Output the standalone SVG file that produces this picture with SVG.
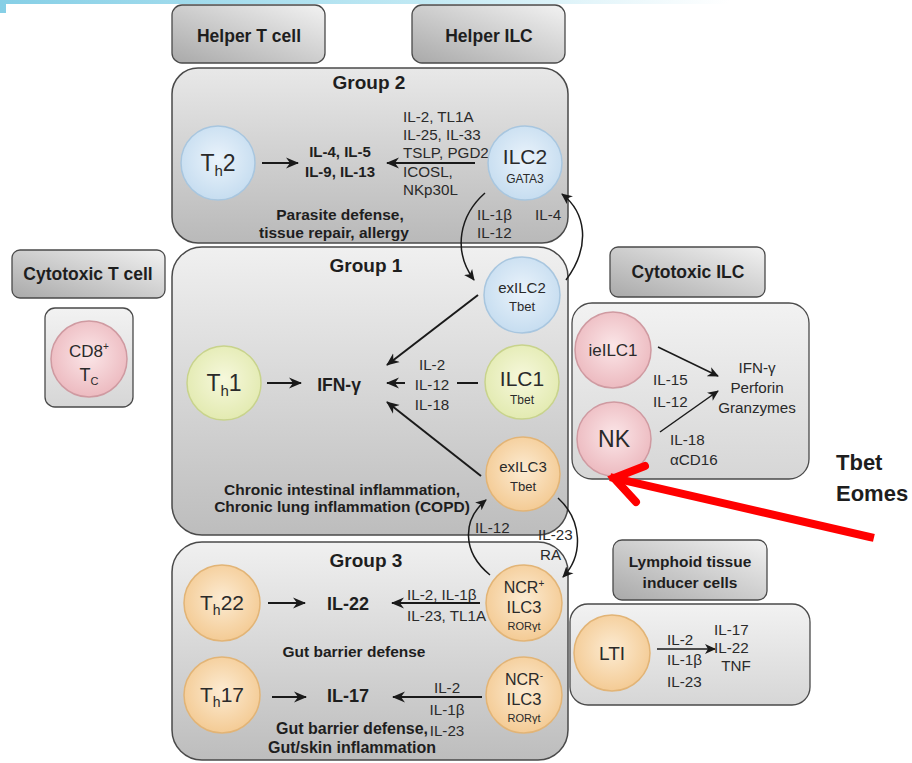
<svg xmlns="http://www.w3.org/2000/svg" width="912" height="763" viewBox="0 0 912 763">
<defs>
<linearGradient id="topband" x1="0" y1="0" x2="1" y2="0">
<stop offset="0" stop-color="#86cfe6"/><stop offset="0.45" stop-color="#bfe8f3"/><stop offset="0.8" stop-color="#ffffff"/>
</linearGradient>
<linearGradient id="hdr" x1="1" y1="0" x2="0" y2="1">
<stop offset="0" stop-color="#f2f2f2"/><stop offset="1" stop-color="#a9a9a9"/>
</linearGradient>
<linearGradient id="grp" x1="0" y1="0" x2="0" y2="1">
<stop offset="0" stop-color="#f0f0f0"/><stop offset="1" stop-color="#bdbdbd"/>
</linearGradient>
<linearGradient id="grp2" x1="0" y1="0" x2="0" y2="1">
<stop offset="0" stop-color="#e8e8e8"/><stop offset="1" stop-color="#b9b9b9"/>
</linearGradient>
<linearGradient id="side" x1="0" y1="0" x2="0" y2="1">
<stop offset="0" stop-color="#f2f2f2"/><stop offset="1" stop-color="#d6d6d6"/>
</linearGradient>
<radialGradient id="blue" cx="0.5" cy="0.45" r="0.6">
<stop offset="0" stop-color="#eaf3fb"/><stop offset="1" stop-color="#c3dbef"/>
</radialGradient>
<radialGradient id="green" cx="0.5" cy="0.45" r="0.6">
<stop offset="0" stop-color="#f6f8dc"/><stop offset="1" stop-color="#e1e9ad"/>
</radialGradient>
<radialGradient id="orange" cx="0.5" cy="0.45" r="0.6">
<stop offset="0" stop-color="#fcebd2"/><stop offset="1" stop-color="#f3c88f"/>
</radialGradient>
<radialGradient id="pink" cx="0.5" cy="0.45" r="0.6">
<stop offset="0" stop-color="#fbe6e8"/><stop offset="1" stop-color="#ebb6bc"/>
</radialGradient>
<marker id="ah" markerUnits="userSpaceOnUse" markerWidth="13" markerHeight="12" viewBox="0 0 13 12" refX="12" refY="6" orient="auto">
<path d="M0,0.5 L13,6 L0,11.5 L4,6 z" fill="#1a1a1a"/>
</marker>
<marker id="ahs" markerUnits="userSpaceOnUse" markerWidth="11" markerHeight="11" viewBox="0 0 11 11" refX="10" refY="5.5" orient="auto">
<path d="M0,0.5 L11,5.5 L0,10.5 L3,5.5 z" fill="#1a1a1a"/>
</marker>
</defs>
<style>
text{font-family:"Liberation Sans",Arial,sans-serif;fill:#2a2a2a}
.b{font-weight:bold;fill:#1e1e1e}
.hdr{fill:url(#hdr);stroke:#4a4a4a;stroke-width:1.3}
.grp{stroke:#4a4a4a;stroke-width:1.5}
.side{fill:url(#side);stroke:#4a4a4a;stroke-width:1.3}
.cb{fill:url(#blue);stroke:#a8c6df;stroke-width:1.5}
.cg{fill:url(#green);stroke:#c8d38c;stroke-width:1.5}
.co{fill:url(#orange);stroke:#e2b476;stroke-width:1.5}
.cp{fill:url(#pink);stroke:#cf9aa1;stroke-width:1.5}
.lab{font-size:15.2px}
.desc{font-size:15.5px}
.ht{font-size:17.5px}
.gt{font-size:19px}
.m{text-anchor:middle}
.ln{stroke:#1a1a1a;stroke-width:2;fill:none}
.cv{stroke:#1a1a1a;stroke-width:1.5;fill:none}
</style>
<rect x="0" y="0" width="912" height="13" fill="url(#topband)"/>
<rect x="6" y="4" width="906" height="759" fill="#ffffff"/>

<g id="hdr-helper-t"><rect class="hdr" x="172" y="5" width="153" height="58" rx="10"/><text class="b m ht" x="249" y="42">Helper T cell</text></g>
<g id="hdr-helper-ilc"><rect class="hdr" x="412" y="5" width="153" height="58" rx="10"/><text class="b m ht" x="489" y="42">Helper ILC</text></g>
<g id="hdr-cyto-t"><rect class="hdr" x="12" y="250" width="153" height="48" rx="8"/><text class="b m ht" x="88" y="280">Cytotoxic T cell</text></g>
<g id="hdr-cyto-ilc"><rect class="hdr" x="610" y="247" width="155" height="50" rx="8"/><text class="b m ht" x="688" y="278">Cytotoxic ILC</text></g>
<g id="hdr-lti"><rect class="hdr" x="613" y="540" width="154" height="60" rx="9"/><text class="b m" x="690" y="567" font-size="15.5">Lymphoid tissue</text><text class="b m" x="690" y="588" font-size="15.5">inducer cells</text></g>

<g id="group2">
<rect class="grp" x="172" y="68" width="396" height="175" rx="26" fill="url(#grp2)"/>
<text class="b m gt" x="369" y="89">Group 2</text>
<text class="b m" x="340" y="157" font-size="15">IL-4, IL-5</text>
<text class="b m" x="340" y="177" font-size="15">IL-9, IL-13</text>
<text class="lab" x="403" y="122">IL-2, TL1A</text>
<text class="lab" x="403" y="140">IL-25, IL-33</text>
<text class="lab" x="403" y="158">TSLP, PGD2</text>
<text class="lab" x="403" y="177">ICOSL,</text>
<text class="lab" x="403" y="195">NKp30L</text>
<text class="b m desc" x="340" y="220">Parasite defense,</text>
<text class="b m desc" x="334" y="238">tissue repair, allergy</text>
<text class="lab" x="477" y="220">IL-1β</text>
<text class="lab" x="477" y="238">IL-12</text>
<text class="lab" x="535" y="220">IL-4</text>
</g>
<g id="th2"><circle class="cb" cx="218" cy="163" r="37"/><text x="218" y="171" class="m" font-size="23">T<tspan font-size="15" dy="5">h</tspan><tspan dy="-5">2</tspan></text></g>
<g id="ilc2"><circle class="cb" cx="525" cy="163" r="37"/><text class="m" x="525" y="164" font-size="21">ILC2</text><text class="m" x="525" y="183" font-size="12">GATA3</text></g>

<g id="group1">
<rect class="grp" x="172" y="247" width="396" height="288" rx="30" fill="url(#grp)"/>
<text class="b m gt" x="366" y="272">Group 1</text>
<text class="b m" x="339" y="391" font-size="17.5">IFN-γ</text>
<text class="lab m" x="432" y="370">IL-2</text>
<text class="lab m" x="432" y="390">IL-12</text>
<text class="lab m" x="432" y="410">IL-18</text>
<text class="b m desc" x="342" y="495">Chronic intestinal inflammation,</text>
<text class="b m desc" x="342" y="512">Chronic lung inflammation (COPD)</text>
</g>
<g id="exilc2"><circle class="cb" cx="522" cy="295" r="38"/><text class="m" x="522" y="293" font-size="15">exILC2</text><text class="m" x="522" y="311" font-size="13">Tbet</text></g>
<g id="th1"><circle class="cg" cx="224" cy="383" r="37"/><text x="224" y="391" class="m" font-size="23">T<tspan font-size="15" dy="5">h</tspan><tspan dy="-5">1</tspan></text></g>
<g id="ilc1"><circle class="cg" cx="522" cy="382" r="37"/><text class="m" x="522" y="386" font-size="21">ILC1</text><text class="m" x="522" y="404" font-size="12">Tbet</text></g>
<g id="exilc3"><circle class="co" cx="523" cy="474" r="37"/><text class="m" x="523" y="472" font-size="15">exILC3</text><text class="m" x="523" y="491" font-size="13">Tbet</text></g>

<g id="group3">
<rect class="grp" x="172" y="542" width="396" height="218" rx="30" fill="url(#grp)"/>
<text class="b m gt" x="366" y="567">Group 3</text>
<text class="b m" x="348" y="610" font-size="18">IL-22</text>
<text class="lab" x="407" y="600">IL-2, IL-1β</text>
<text class="lab" x="407" y="621">IL-23, TL1A</text>
<text class="b m desc" x="354" y="657">Gut barrier defense</text>
<text class="b m" x="348" y="702" font-size="18">IL-17</text>
<text class="lab m" x="447" y="693">IL-2</text>
<text class="lab m" x="447" y="715">IL-1β</text>
<text class="lab m" x="447" y="736">IL-23</text>
<text class="b m" x="352" y="734" font-size="16">Gut barrier defense,</text>
<text class="b m" x="352" y="753" font-size="16">Gut/skin inflammation</text>
</g>
<g id="th22"><circle class="co" cx="222" cy="603" r="38"/><text x="222" y="610" class="m" font-size="21">T<tspan font-size="14" dy="5">h</tspan><tspan dy="-5">22</tspan></text></g>
<g id="ncrp-ilc3"><circle class="co" cx="524" cy="603" r="38"/><text class="m" x="524" y="593" font-size="16">NCR<tspan font-size="10" dy="-6">+</tspan></text><text class="m" x="524" y="613" font-size="16.5">ILC3</text><text class="m" x="524" y="630" font-size="11">RORγt</text></g>
<g id="th17"><circle class="co" cx="222" cy="695" r="38"/><text x="222" y="702" class="m" font-size="21">T<tspan font-size="14" dy="5">h</tspan><tspan dy="-5">17</tspan></text></g>
<g id="ncrm-ilc3"><circle class="co" cx="524" cy="695" r="38"/><text class="m" x="524" y="685" font-size="16">NCR<tspan font-size="10" dy="-6">-</tspan></text><text class="m" x="524" y="705" font-size="16.5">ILC3</text><text class="m" x="524" y="722" font-size="11">RORγt</text></g>

<g id="cd8">
<rect class="side" x="45" y="308" width="88" height="99" rx="10"/>
<circle class="cp" cx="89" cy="359" r="38"/>
<text class="m" x="89" y="357" font-size="17">CD8<tspan font-size="10" dy="-7">+</tspan></text>
<text class="m" x="89" y="381" font-size="18">T<tspan font-size="11" dy="4">C</tspan></text>
</g>

<g id="cytotoxic-ilc">
<rect class="side" x="572" y="303" width="237" height="176" rx="20"/>
<text class="lab m" x="757" y="373">IFN-γ</text>
<text class="lab m" x="757" y="393">Perforin</text>
<text class="lab m" x="757" y="413">Granzymes</text>
<text class="lab" x="653" y="385">IL-15</text>
<text class="lab" x="653" y="407">IL-12</text>
<text class="lab" x="670" y="445">IL-18</text>
<text class="lab" x="670" y="465">αCD16</text>
</g>
<g id="ieilc1"><circle class="cp" cx="613" cy="350" r="38"/><text class="m" x="613" y="356" font-size="17">ieILC1</text></g>
<g id="nk"><circle class="cp" cx="614" cy="439" r="37"/><text class="m" x="614" y="447" font-size="23">NK</text></g>

<g id="lti-box">
<rect class="side" x="570" y="604" width="240" height="101" rx="18" fill="url(#grp)"/>
<text class="lab" x="667" y="645">IL-2</text>
<text class="lab" x="667" y="665">IL-1β</text>
<text class="lab" x="667" y="687">IL-23</text>
<text class="lab" x="714" y="635">IL-17</text>
<text class="lab" x="714" y="653">IL-22</text>
<text class="lab m" x="736" y="671">TNF</text>
</g>
<g id="lti"><circle class="co" cx="612" cy="653" r="38"/><text class="m" x="612" y="660" font-size="19">LTI</text></g>

<g id="tbet-eomes">
<text class="b" x="836" y="470" font-size="22" fill="#111">Tbet</text>
<text class="b" x="836" y="501" font-size="22" fill="#111">Eomes</text>
</g>

<g id="connectors">
<line class="ln" x1="262" y1="163" x2="298" y2="163" marker-end="url(#ah)"/>
<line class="ln" x1="475" y1="163" x2="387" y2="163" marker-end="url(#ah)"/>
<line class="ln" x1="267" y1="383" x2="301" y2="383" marker-end="url(#ah)"/>
<line class="ln" x1="405" y1="383" x2="387" y2="383" marker-end="url(#ah)"/>
<line class="ln" x1="457" y1="383" x2="478" y2="383"/>
<line class="ln" x1="478" y1="295" x2="387" y2="365" marker-end="url(#ah)"/>
<line class="ln" x1="481" y1="476" x2="387" y2="402" marker-end="url(#ah)"/>
<line class="ln" x1="268" y1="603" x2="305" y2="603" marker-end="url(#ah)"/>
<line class="ln" x1="480" y1="603" x2="392" y2="603" marker-end="url(#ah)"/>
<line class="ln" x1="272" y1="697" x2="306" y2="697" marker-end="url(#ah)"/>
<line class="ln" x1="482" y1="697" x2="393" y2="697" marker-end="url(#ah)"/>
<line class="cv" x1="658" y1="347" x2="718" y2="376" marker-end="url(#ahs)"/>
<line class="cv" x1="660" y1="432" x2="718" y2="391" marker-end="url(#ahs)"/>
<line class="cv" x1="657" y1="649" x2="715" y2="649" marker-end="url(#ahs)"/>
<path class="cv" d="M485,193 C460,215 452,250 474,280" marker-end="url(#ahs)"/>
<path class="cv" d="M566,280 C592,245 585,212 562,194" marker-end="url(#ahs)"/>
<path class="cv" d="M490,575 C462,552 462,520 486,500" marker-end="url(#ahs)"/>
<path class="cv" d="M558,498 C582,520 584,555 563,577" marker-end="url(#ahs)"/>
<text class="lab" x="475" y="533">IL-12</text>
<text class="lab" x="538" y="540">IL-23</text>
<text class="lab" x="540" y="560">RA</text>
<path d="M870,537 L614,478" stroke="#ff0000" stroke-width="8" fill="none" stroke-linecap="square"/>
<path d="M645,466 L614,478 L636,502" stroke="#ff0000" stroke-width="8" fill="none" stroke-linecap="round" stroke-linejoin="miter"/>
</g>
</svg>
